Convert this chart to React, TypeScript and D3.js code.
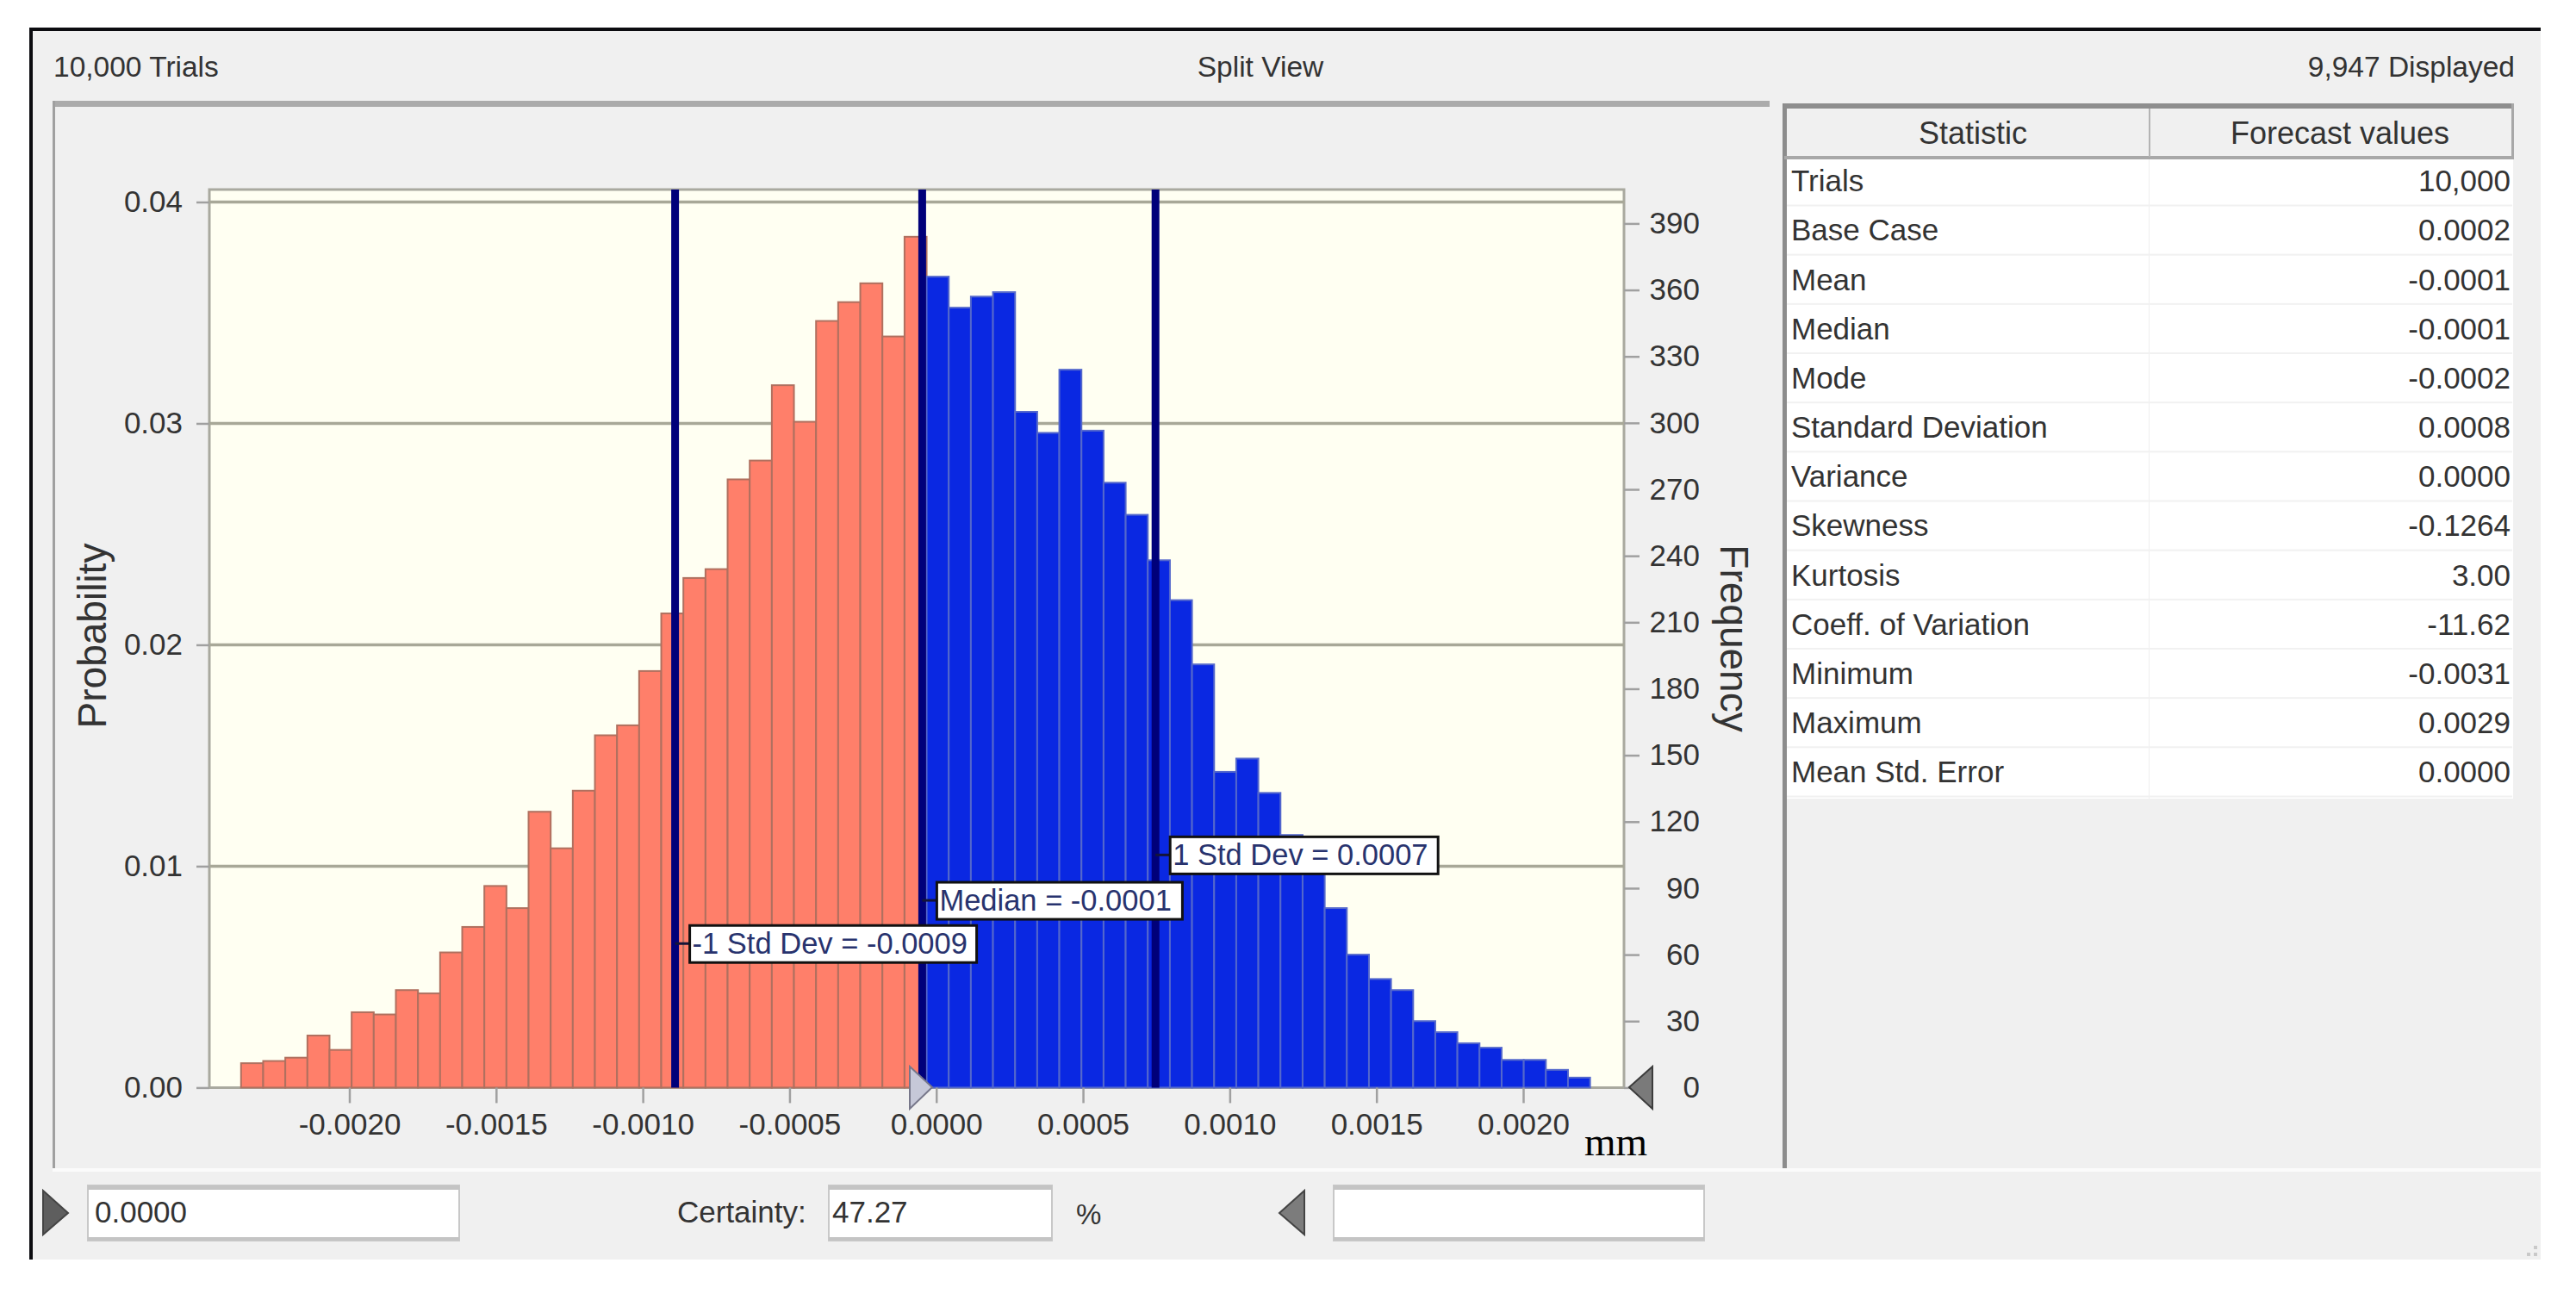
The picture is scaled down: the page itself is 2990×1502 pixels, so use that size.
import { useEffect, useRef } from "react";
import * as d3 from "d3";

const WIDTH = 2990;
const HEIGHT = 1502;

// histogram counts, left to right
const belowCounts = [
  11, 12, 13.5, 23.5, 17, 34, 33, 44, 42.5, 61, 72.5, 91, 81, 124.5, 108, 134, 159, 163.5, 188,
  214, 230, 234, 274.5, 283, 317, 300.5, 346, 354.5, 363, 339, 384,
];
const aboveCounts = [
  366, 352, 357, 359, 305, 295.5, 324, 296.5, 273, 258.5, 238, 220, 191, 142.5, 148.5, 133, 114,
  99, 81, 60, 49, 44, 30, 25, 20, 18, 12.5, 12.5, 8, 4.5,
];
const binStart = -0.002369;
const binWidth = 0.00007536;

const xTicks = [-0.002, -0.0015, -0.001, -0.0005, 0, 0.0005, 0.001, 0.0015, 0.002];
const xTickLabels = ["-0.0020", "-0.0015", "-0.0010", "-0.0005", "0.0000", "0.0005", "0.0010", "0.0015", "0.0020"];
const probTicks = [0, 0.01, 0.02, 0.03, 0.04];
const probTickLabels = ["0.00", "0.01", "0.02", "0.03", "0.04"];
const freqTicks = [0, 30, 60, 90, 120, 150, 180, 210, 240, 270, 300, 330, 360, 390];

const markerValues = [-0.00089, -0.000048, 0.000747];
const markerLabels = ["-1 Std Dev = -0.0009", "Median = -0.0001", "1 Std Dev = 0.0007"];
const markerLabelCounts = [65, 84.5, 105];
const markerBoxWidths = [333, 285, 311];

const statNames = [
  "Trials", "Base Case", "Mean", "Median", "Mode", "Standard Deviation", "Variance", "Skewness",
  "Kurtosis", "Coeff. of Variation", "Minimum", "Maximum", "Mean Std. Error",
];
const statValues = [
  "10,000", "0.0002", "-0.0001", "-0.0001", "-0.0002", "0.0008", "0.0000", "-0.1264", "3.00",
  "-11.62", "-0.0031", "0.0029", "0.0000",
];

const SANS = "'Liberation Sans', Arial, sans-serif";
const TEXT = "#333333";

export default function App() {
  const svgRef = useRef<SVGSVGElement>(null);

  useEffect(() => {
    if (!svgRef.current) return;
    const svg = d3.select(svgRef.current);
    svg.selectAll("*").remove();

    const plot = { left: 243, right: 1885, top: 220, bottom: 1262.4 };
    const x = d3.scaleLinear().domain([-0.002, 0.002]).range([405.5, 1768]);
    const yProb = d3.scaleLinear().domain([0, 0.04]).range([plot.bottom, 234.5]);
    const yFreq = d3.scaleLinear().domain([0, 390]).range([plot.bottom, 259.4]);

    const rect = (g: any, rx: number, ry: number, w: number, h: number, fill: string) =>
      g.append("rect").attr("x", rx).attr("y", ry).attr("width", w).attr("height", h).attr("fill", fill);
    const label = (g: any, tx: number, ty: number, s: string, size = 35, anchor = "start") =>
      g
        .append("text")
        .attr("x", tx)
        .attr("y", ty)
        .attr("dy", "0.35em")
        .attr("text-anchor", anchor)
        .attr("font-family", SANS)
        .attr("font-size", size)
        .attr("fill", TEXT)
        .text(s);
    const triangle = (g: any, pts: number[][], fill: string, stroke: string) =>
      g
        .append("polygon")
        .attr("points", pts.map((p) => p.join(",")).join(" "))
        .attr("fill", fill)
        .attr("stroke", stroke)
        .attr("stroke-width", 2);

    // window
    rect(svg, 36, 32, 2913, 1430, "#f0f0f0");
    rect(svg, 36, 32, 2913, 4, "#0c0c10");
    rect(svg, 34, 32, 4, 1430, "#0c0c10");

    label(svg, 62, 77, "10,000 Trials", 33.5);
    label(svg, 1463, 77, "Split View", 33.5, "middle");
    label(svg, 2919, 77, "9,947 Displayed", 33.5, "end");

    // chart panel frame
    rect(svg, 61, 117, 1993, 7, "#ababab");
    rect(svg, 61, 117, 3, 1239, "#a0a0a0");
    rect(svg, 61, 1356, 2888, 4, "#fbfbfb");

    // plot area
    rect(svg, plot.left, plot.top, plot.right - plot.left, plot.bottom - plot.top, "#fffff2");
    svg
      .append("path")
      .attr("d", `M${plot.left},${plot.bottom}V${plot.top}H${plot.right}V${plot.bottom}H${plot.left}`)
      .attr("fill", "none")
      .attr("stroke", "#a9a99f")
      .attr("stroke-width", 3);

    svg
      .append("g")
      .selectAll("line")
      .data(probTicks.slice(1))
      .join("line")
      .attr("x1", plot.left)
      .attr("x2", plot.right)
      .attr("y1", (d) => yProb(d))
      .attr("y2", (d) => yProb(d))
      .attr("stroke", "#a8a898")
      .attr("stroke-width", 3.5);

    // bars
    const bars = [
      ...belowCounts.map((count) => ({ count, fill: "#ff7f6a", stroke: "#b0705f" })),
      ...aboveCounts.map((count) => ({ count, fill: "#0a28e2", stroke: "#5468cc" })),
    ];
    svg
      .append("g")
      .selectAll("rect")
      .data(bars)
      .join("rect")
      .attr("x", (_, i) => x(binStart + i * binWidth))
      .attr("y", (d) => yFreq(d.count))
      .attr("width", (_, i) => x(binStart + (i + 1) * binWidth) - x(binStart + i * binWidth))
      .attr("height", (d) => plot.bottom - yFreq(d.count))
      .attr("fill", (d) => d.fill)
      .attr("stroke", (d) => d.stroke)
      .attr("stroke-width", 2);

    // axes
    const styleAxis = (g: any, size: number) => {
      g.select(".domain").remove();
      g.selectAll("line").attr("stroke", "#a0a0a0").attr("stroke-width", 2.5);
      g.selectAll("text").attr("font-family", SANS).attr("font-size", size).attr("fill", TEXT);
    };
    const xAxis = svg
      .append("g")
      .attr("transform", `translate(0,${plot.bottom})`)
      .call(
        d3
          .axisBottom(x)
          .tickValues(xTicks)
          .tickSize(18)
          .tickPadding(12)
          .tickFormat((_, i) => xTickLabels[i]),
      );
    styleAxis(xAxis, 35);

    const leftAxis = svg
      .append("g")
      .attr("transform", `translate(${plot.left},0)`)
      .call(
        d3
          .axisLeft(yProb)
          .tickValues(probTicks)
          .tickSize(15)
          .tickPadding(16)
          .tickFormat((_, i) => probTickLabels[i]),
      );
    styleAxis(leftAxis, 35);

    const rightAxis = svg
      .append("g")
      .attr("transform", `translate(${plot.right},0)`)
      .call(d3.axisRight(yFreq).tickValues(freqTicks).tickSize(18).tickPadding(12).tickFormat(d3.format("d")));
    styleAxis(rightAxis, 35);
    rightAxis.selectAll("text").attr("text-anchor", "end").attr("x", 88);

    label(svg, 107, 738, "Probability", 46, "middle").attr("transform", "rotate(-90 107 738)");
    label(svg, 2013, 741, "Frequency", 46, "middle").attr("transform", "rotate(90 2013 741)");

    svg
      .append("text")
      .attr("x", 1839)
      .attr("y", 1341)
      .attr("font-family", "'Liberation Serif', 'Times New Roman', serif")
      .attr("font-size", 47)
      .attr("fill", "#000")
      .text("mm");

    // marker lines first, their labels sit on top of every line
    markerValues.forEach((v) => {
      svg
        .append("line")
        .attr("x1", x(v))
        .attr("x2", x(v))
        .attr("y1", plot.top)
        .attr("y2", plot.bottom)
        .attr("stroke", "#00007a")
        .attr("stroke-width", 9);
    });
    markerValues.forEach((v, i) => {
      const mx = x(v);
      const my = yFreq(markerLabelCounts[i]);
      svg
        .append("line")
        .attr("x1", mx)
        .attr("x2", mx + 18)
        .attr("y1", my)
        .attr("y2", my)
        .attr("stroke", "#141438")
        .attr("stroke-width", 3);
      rect(svg, mx + 17, my - 21, markerBoxWidths[i], 43, "#ffffff")
        .attr("stroke", "#111111")
        .attr("stroke-width", 3);
      label(svg, mx + 20, my, markerLabels[i], 34.5).attr("fill", "#28336e");
    });

    // certainty grabbers
    triangle(svg, [[1056, 1238], [1082, 1262], [1056, 1287]], "#c6c8d8", "#77778a");
    triangle(svg, [[1918, 1238], [1891, 1262], [1918, 1287]], "#7a7a7a", "#3c3c3c");

    // statistics table
    const table = svg.append("g");
    rect(table, 2071, 183, 846, 744, "#ffffff");
    rect(table, 2069, 120, 5, 1236, "#8c8c8c");
    rect(table, 2071, 120, 847, 6, "#8e8e8e");
    rect(table, 2071, 181, 847, 4, "#a8a8a8");
    rect(table, 2915, 120, 3, 64, "#a8a8a8");
    rect(table, 2494, 126, 2, 56, "#b4b4b4");
    rect(table, 2494, 185, 1, 742, "#efefef");
    label(table, 2290, 154, "Statistic", 36, "middle");
    label(table, 2716, 154, "Forecast values", 36, "middle");
    const rowY = d3.scaleLinear().domain([0, 12]).range([210, 896]);
    statNames.forEach((name, i) => {
      rect(table, 2074, rowY(i) + 27.5, 842, 2, "#f1f1f1");
      label(table, 2079, rowY(i), name, 35);
      label(table, 2914, rowY(i), statValues[i], 35, "end");
    });

    // bottom controls
    const inputs = [
      [102, 431],
      [962, 259],
      [1548, 430],
    ];
    inputs.forEach(([ix, iw]) => {
      rect(svg, ix, 1376, iw, 64, "#ffffff").attr("stroke", "#c8c8c8").attr("stroke-width", 2);
      rect(svg, ix, 1376, iw, 5, "#c4c4c4");
      rect(svg, ix, 1436, iw, 4, "#c4c4c4");
    });
    triangle(svg, [[50, 1382], [79, 1408], [50, 1433]], "#5e5e5e", "#444444");
    triangle(svg, [[1514, 1382], [1485, 1408], [1514, 1433]], "#7c7c7c", "#444444");
    label(svg, 110, 1407, "0.0000", 35);
    label(svg, 786, 1407, "Certainty:", 35);
    label(svg, 966, 1407, "47.27", 35);
    label(svg, 1249, 1409, "%", 33);

    // resize grip
    [[2941, 1454], [2933, 1454], [2941, 1446]].forEach(([gx, gy]) => rect(svg, gx, gy, 4, 4, "#c9c9c9"));
  }, []);

  return (
    <svg
      ref={svgRef}
      width={WIDTH}
      height={HEIGHT}
      viewBox={`0 0 ${WIDTH} ${HEIGHT}`}
      style={{ position: "absolute", left: 0, top: 0, display: "block", background: "#fff" }}
    />
  );
}
